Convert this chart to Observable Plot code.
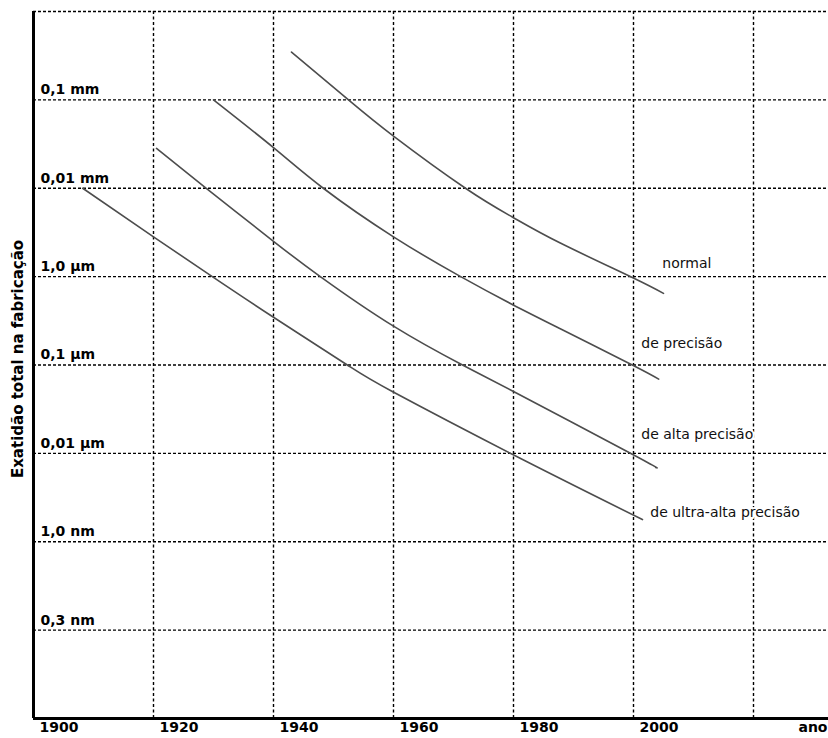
<!DOCTYPE html>
<html>
<head>
<meta charset="utf-8">
<script src="https://cdn.jsdelivr.net/npm/d3@7"></script>
<script src="https://cdn.jsdelivr.net/npm/@observablehq/plot@0.6"></script>
<style>
  body { margin: 0; background: #fff; }
  svg { display: block; }
</style>
</head>
<body>
<div id="chart"></div>
<script>
// ---- data (accuracy in µm, by year) ----
const seriesNames = ["normal", "de precisão", "de alta precisão", "de ultra-alta precisão"];

const normalYears  = [1943.0, 1952.5, 1960.0, 1972.0, 1979.8, 1987.8, 1999.8, 2005.0];
const normalValues = [347, 100, 38.9, 10, 4.73, 2.40, 0.977, 0.646];

const precisaoYears  = [1930.0, 1940.0, 1948.3, 1960.0, 1971.2, 1979.8, 1987.8, 1999.8, 2004.2];
const precisaoValues = [100, 28.8, 10, 2.82, 1, 0.484, 0.257, 0.1, 0.0692];

const altaYears  = [1920.5, 1928.8, 1940.0, 1947.8, 1960.0, 1971.5, 1980.0, 1999.8, 2003.7];
const altaValues = [28.2, 10, 2.51, 1, 0.275, 0.1, 0.0501, 0.00977, 0.00692];

const ultraYears  = [1908.2, 1920.0, 1929.8, 1940.0, 1952.3, 1959.8, 1979.8, 2001.5];
const ultraValues = [10, 2.82, 1, 0.347, 0.1, 0.0501, 0.00977, 0.00178];

const labelYears  = [2004.8, 2001.3, 2001.3, 2002.8];
const labelValues = [1.39, 0.173, 0.0165, 0.00216];

const xTickYears = [1900, 1920, 1940, 1960, 1980, 2000];
const gridYears  = [1920, 1940, 1960, 1980, 2000, 2020];
const gridValues = [1000, 100, 10, 1, 0.1, 0.01, 0.001, 0.0001];
const yTickValues = [100, 10, 1, 0.1, 0.01, 0.001, 0.0001];
const yTickLabels = ["0,1 mm", "0,01 mm", "1,0 µm", "0,1 µm", "0,01 µm", "1,0 nm", "0,3 nm"];

// ---- tables built from the arrays ----
const seriesYears  = [normalYears, precisaoYears, altaYears, ultraYears];
const seriesValues = [normalValues, precisaoValues, altaValues, ultraValues];
const curveRows = seriesNames.flatMap((name, s) =>
  seriesYears[s].map((year, i) => ({series: name, year, value: seriesValues[s][i]})));
const labelRows = seriesNames.map((name, i) => ({name, year: labelYears[i], value: labelValues[i]}));

const chart = Plot.plot({
  width: 828,
  height: 738,
  marginLeft: 33,
  marginRight: 0,
  marginTop: 11,
  marginBottom: 20,
  x: {domain: [1900, 2032.5]},
  y: {type: "log", domain: [1e-5, 1e3]},
  style: {fontFamily: "DejaVu Sans", background: "white", color: "black", overflow: "hidden"},
  marks: [
    Plot.ruleY(gridValues, {stroke: "black", strokeWidth: 1.4, strokeDasharray: "3,2"}),
    Plot.ruleX(gridYears, {stroke: "black", strokeWidth: 1.4, strokeDasharray: "3,2.5"}),
    Plot.line(curveRows, {x: "year", y: "value", z: "series", stroke: "#4d4d4d", strokeWidth: 1.6, curve: "natural"}),
    Plot.text(labelRows, {x: "year", y: "value", text: "name", textAnchor: "start", fontSize: 14,
      fill: "#111", stroke: "white", strokeWidth: 4}),
    Plot.ruleX([1900], {stroke: "black", strokeWidth: 3}),
    Plot.ruleY([1e-5], {stroke: "black", strokeWidth: 3}),
    Plot.axisX({ticks: xTickYears, tickSize: 0, tickPadding: 4, textAnchor: "start", dx: 6,
      fontSize: 14, fontWeight: "bold", tickFormat: d => String(d), label: null}),
    Plot.axisY({ticks: yTickValues, tickSize: 0, tickPadding: 0, textAnchor: "start", dx: 7, dy: -10,
      fontSize: 14, fontWeight: "bold", tickFormat: d => yTickLabels[yTickValues.indexOf(d)], label: null}),
    Plot.text(["ano"], {frameAnchor: "bottom-right", textAnchor: "end", lineAnchor: "top", dx: -1, dy: 4,
      fontSize: 14, fontWeight: "bold"}),
    Plot.text(["Exatidão total na fabricação"], {frameAnchor: "left", textAnchor: "middle", rotate: -90,
      dx: -15, dy: -6, fontSize: 15, fontWeight: "bold", letterSpacing: "1px"})
  ]
});
document.getElementById("chart").append(chart);
</script>
</body>
</html>
